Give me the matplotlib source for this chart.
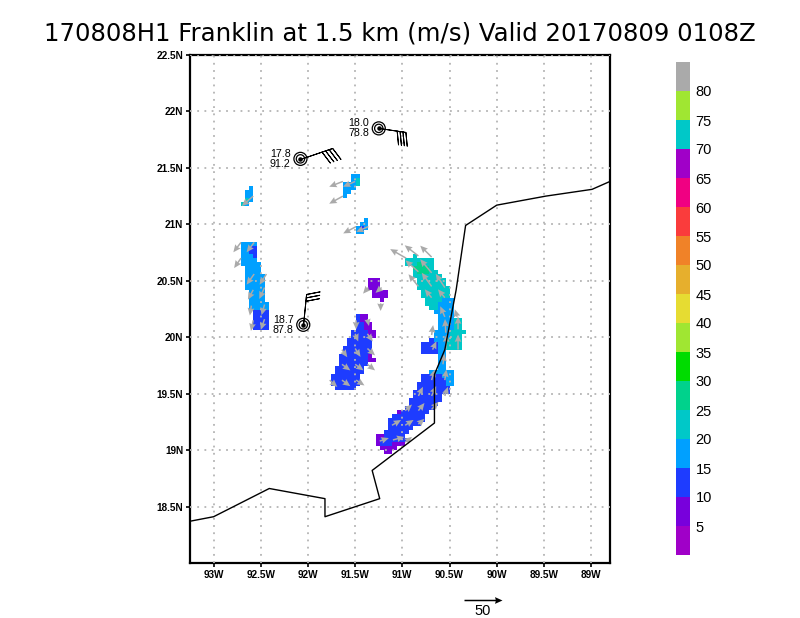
import numpy as np
import matplotlib
matplotlib.use('Agg')
import matplotlib.pyplot as plt
from matplotlib.colors import ListedColormap, BoundaryNorm

# Colour scale
levels = list(range(0, 90, 5))
level_colors = ['#a000c8', '#7800dc', '#1e3cff', '#00a0ff', '#00c8c8', '#00d28c',
                '#00dc00', '#a0e632', '#e6dc32', '#e6af2d', '#f08228', '#fa3c3c',
                '#f00082', '#a000c8', '#00c8c8', '#a0e632', '#aaaaaa']

# Wind analysis cells: (row, first col, last col, speed m/s)
# rows count south from lat0, cols count east from lon0
lon0 = -92.714
lat0 = 21.482
dlon = 0.0435
dlat = 0.0354

north_patch = [(1, 27, 28, 17), (2, 27, 27, 17), (2, 28, 28, 22), (3, 25, 27, 17), (3, 28, 28, 22),
               (4, 25, 27, 17), (5, 25, 26, 17), (6, 25, 25, 17)]
small_patch = [(12, 30, 30, 17), (13, 29, 30, 17), (14, 28, 30, 17), (15, 28, 29, 17), (14, 29, 29, 12)]
nw_patch = [(4, 2, 2, 17), (5, 1, 2, 17), (6, 1, 2, 17), (7, 1, 1, 22), (7, 2, 2, 17),
            (8, 0, 0, 22), (8, 1, 1, 17)]
west_strip = [(18, 0, 3, 17), (19, 0, 1, 17), (19, 2, 3, 12), (20, 0, 1, 17), (20, 2, 3, 12),
              (21, 0, 2, 17), (21, 3, 3, 12), (22, 0, 3, 17), (23, 0, 4, 17), (24, 1, 4, 17),
              (25, 1, 4, 17), (26, 1, 5, 17), (27, 1, 5, 17), (28, 1, 5, 17), (29, 1, 5, 17),
              (30, 2, 5, 17), (31, 2, 5, 17), (32, 2, 5, 17), (33, 2, 6, 17), (34, 2, 6, 17),
              (35, 3, 6, 12), (36, 3, 6, 12), (37, 3, 6, 12), (38, 3, 6, 12), (39, 3, 6, 12)]
centre_top = [(27, 31, 33, 7), (28, 31, 33, 7), (29, 31, 33, 7), (30, 32, 35, 7), (31, 32, 35, 7),
              (32, 34, 34, 7)]
centre_band = [(36, 28, 28, 12), (36, 29, 30, 7), (37, 28, 28, 12), (37, 29, 30, 7),
               (38, 28, 29, 12), (38, 30, 31, 7), (39, 28, 29, 12), (39, 30, 31, 7),
               (40, 27, 30, 12), (40, 31, 32, 7), (41, 27, 30, 12), (41, 31, 32, 7),
               (42, 26, 31, 12), (43, 26, 31, 12), (44, 25, 31, 12), (45, 25, 31, 12),
               (46, 24, 30, 12), (46, 31, 31, 7), (47, 24, 30, 12), (47, 31, 32, 7),
               (48, 24, 30, 12), (49, 23, 29, 12), (50, 23, 29, 12), (51, 22, 28, 12),
               (52, 22, 28, 12), (53, 22, 28, 12), (54, 23, 27, 12)]
upper_arc = [(21, 42, 42, 22), (22, 40, 46, 22), (23, 40, 46, 22), (23, 43, 44, 27), (24, 42, 46, 22),
             (24, 42, 45, 27), (25, 42, 47, 22), (25, 43, 45, 27), (26, 42, 48, 22), (27, 43, 49, 22),
             (28, 43, 49, 22), (29, 43, 50, 22), (30, 44, 50, 22), (31, 44, 50, 22),
             (32, 45, 48, 22), (32, 49, 51, 17), (33, 45, 47, 22), (33, 48, 51, 17),
             (34, 46, 47, 22), (34, 48, 51, 17), (35, 47, 51, 17), (36, 48, 51, 17),
             (37, 48, 51, 17), (37, 52, 53, 22), (38, 48, 51, 17), (38, 52, 53, 22),
             (39, 48, 51, 17), (39, 52, 53, 22), (40, 47, 50, 17), (40, 51, 54, 22),
             (41, 47, 50, 17), (41, 51, 53, 22), (42, 46, 46, 12), (42, 47, 49, 17), (42, 50, 53, 22),
             (43, 44, 47, 12), (43, 48, 49, 17), (43, 50, 53, 22), (44, 44, 47, 12), (44, 48, 49, 17),
             (44, 50, 53, 22)]
lower_arc = [(45, 44, 47, 12), (45, 48, 49, 17), (46, 48, 49, 17), (47, 48, 49, 17), (48, 48, 49, 17),
             (49, 48, 49, 17), (50, 46, 51, 17), (51, 44, 48, 12), (51, 49, 51, 17),
             (52, 44, 49, 12), (52, 50, 51, 17), (53, 43, 49, 12), (53, 50, 51, 17),
             (54, 43, 50, 12), (55, 42, 50, 12), (56, 42, 48, 12), (57, 41, 48, 12),
             (58, 41, 47, 12), (59, 40, 46, 12), (60, 38, 38, 7), (60, 39, 45, 12),
             (61, 37, 44, 12), (62, 36, 44, 12), (63, 36, 43, 12), (64, 36, 41, 12),
             (65, 35, 40, 12), (66, 33, 34, 7), (66, 35, 39, 12), (67, 33, 33, 7), (67, 34, 40, 12),
             (68, 33, 33, 7), (68, 34, 36, 12), (68, 37, 39, 7), (69, 34, 37, 7), (70, 35, 36, 7)]

# Wind vectors
arrow_lon = [-91.63, -91.63, -91.50, -91.36, -91.49,
             -92.58, -92.71, -92.57, -92.71, -92.57, -92.44, -92.58, -92.46, -92.60, -92.46, -92.58, -92.46,
             -91.36, -91.22, -91.23, -91.49, -91.37, -91.50, -91.37, -91.50, -91.37, -91.64,
             -91.64, -91.50, -91.37, -91.77, -91.64, -91.49,
             -91.24, -91.10, -90.97, -91.11, -90.97, -90.83, -90.97, -90.83, -90.69, -90.83, -90.69,
             -90.55, -90.69, -90.55, -90.57, -90.68, -90.69, -90.54, -90.41, -90.54, -90.41, -90.55,
             -90.42, -90.55, -90.69, -90.55, -90.69, -90.83, -90.69, -90.83, -90.69, -90.83, -90.96]
arrow_lat = [21.38, 21.25, 21.38, 20.98, 20.98,
             21.25, 20.84, 20.84, 20.70, 20.56, 20.56, 20.42, 20.44, 20.28, 20.29, 20.15, 20.16,
             20.44, 20.44, 20.30, 20.15, 20.16, 20.03, 20.03, 19.90, 19.90, 19.89,
             19.76, 19.76, 19.76, 19.62, 19.62, 19.62,
             19.08, 19.09, 19.07, 19.22, 19.22, 19.23, 19.35, 19.35, 19.36, 19.48, 19.48,
             19.48, 19.62, 19.62, 19.76, 19.89, 20.02, 19.89, 19.89, 20.04, 20.07, 20.18,
             20.18, 20.35, 20.35, 20.44, 20.45, 20.45, 20.57, 20.58, 20.71, 20.72, 20.70]
arrow_u = [-18, -18, -16, -16, -17,
           -15, -10, -10, -9, -10, -9, -7, -7, -2, -4, -3, -5,
           -7, -8, 0, 0, 2, 4, 7, 7, 10, 7,
           11, 11, 10, 10, 11, 11,
           12, 15, 9, 12, 11, 8, 9, 8, 9, 6, 6,
           4, 4, 2, 2, 5, 2, 1, 0, -1, 0, -6,
           -3, -9, -9, -12, -13, -13, -15, -17, -15, -18, -21]
arrow_v = [-7, -10, -7, -7, -9,
           -13, -13, -13, -13, -14, -14, -13, -15, -13, -14, -14, -14,
           -8, -7, -10, -12, -9, -10, -10, -11, -9, -10,
           -8, -8, -8, -9, -8, -7,
           4, 4, 7, 7, 7, 7, 8, 10, 10, 12, 13,
           12, 14, 14, 14, 11, 13, 20, 20, 18, 17, 14,
           10, 11, 11, 18, 18, 16, 18, 15, 15, 14, 12]

# Coast line
coast_lon = [-93.25, -93.0, -92.41, -91.82, -91.82, -91.24, -91.32, -90.66, -90.66, -90.55, -90.43,
             -90.33, -90.0, -89.48, -88.99, -88.8]
coast_lat = [18.37, 18.41, 18.66, 18.57, 18.41, 18.57, 18.82, 19.24, 19.67, 19.89, 20.42,
             20.99, 21.17, 21.25, 21.31, 21.38]

# Storm positions, their labels and barbs
storm_lon = [-91.25, -92.08, -92.05]
storm_lat = [21.85, 21.58, 20.11]
storm_text = ['18.0\n78.8', '17.8\n91.2', '18.7\n87.8']
barb_u = [-40, -38, -3]
barb_v = [6, -13, -30]
barb_len = [6.2, 7.0, 6.7]
barb_height = [0.5, 0.38, 0.42]

xticks = [-93, -92.5, -92, -91.5, -91, -90.5, -90, -89.5, -89]
xlabels = ['93W', '92.5W', '92W', '91.5W', '91W', '90.5W', '90W', '89.5W', '89W']
yticks = [18.5, 19, 19.5, 20, 20.5, 21, 21.5, 22, 22.5]
ylabels = ['18.5N', '19N', '19.5N', '20N', '20.5N', '21N', '21.5N', '22N', '22.5N']

# build the grid
grid = np.full((73, 58), np.nan)
for patch in [north_patch, small_patch, nw_patch, west_strip, centre_top, centre_band, upper_arc, lower_arc]:
    for row, first, last, speed in patch:
        grid[row, first:last + 1] = speed
lon_edges = lon0 + dlon * np.arange(59)
lat_edges = lat0 - dlat * np.arange(74)

plt.rcParams['font.family'] = ['Liberation Sans', 'DejaVu Sans']

fig = plt.figure(figsize=(8, 6.18), dpi=100)
ax = fig.add_axes([190 / 800, 55 / 618, 420 / 800, 508 / 618])

cmap = ListedColormap(level_colors)
norm = BoundaryNorm(levels, cmap.N)
mesh = ax.pcolormesh(lon_edges, lat_edges, grid, cmap=cmap, norm=norm, zorder=1)

ax.set_xlim(-93.25, -88.8)
ax.set_ylim(18.0, 22.5)
ax.set_xticks(xticks)
ax.set_xticklabels(xlabels, fontsize=7.2, fontweight='bold')
ax.set_yticks(yticks)
ax.set_yticklabels(ylabels, fontsize=7.2, fontweight='bold')
ax.tick_params(direction='out', length=3, width=1.2, pad=2)
ax.grid(True, color='#b4b4b4', linestyle=(0, (1, 3)), linewidth=1.3, zorder=2)
ax.set_axisbelow(False)
for spine in ax.spines.values():
    spine.set_linewidth(1.6)

ax.plot(coast_lon, coast_lat, color='black', linewidth=1.0, zorder=4)

q = ax.quiver(arrow_lon, arrow_lat, arrow_u, arrow_v, angles='uv', units='dots', scale_units='dots',
              scale=1 / 0.76, width=1.5, headwidth=4.5, headlength=5, headaxislength=4.5,
              color='#aaaaaa', zorder=3)
ax.quiverkey(q, 483 / 800, 1 - 600 / 618, 50, '50', coordinates='figure', labelpos='S', color='black',
             labelsep=0.04, fontproperties={'size': 10.5})

# storm symbols
for i in range(len(storm_lon)):
    ax.scatter(storm_lon[i], storm_lat[i], s=88, facecolor='none', edgecolor='black', linewidth=0.9, zorder=5)
    ax.scatter(storm_lon[i], storm_lat[i], s=36, facecolor='none', edgecolor='black', linewidth=0.9, zorder=5)
    ax.scatter(storm_lon[i], storm_lat[i], s=5, color='black', zorder=5)
    ax.barbs(storm_lon[i], storm_lat[i], barb_u[i], barb_v[i], length=barb_len[i], linewidth=0.7,
             barb_increments={'half': 5, 'full': 10, 'flag': 1000},
             sizes={'height': barb_height[i], 'spacing': 0.11, 'emptybar': 0}, zorder=5)
    ax.annotate(storm_text[i], (storm_lon[i], storm_lat[i]), xytext=(-7, 0), textcoords='offset points',
                ha='right', va='center', fontsize=7.7, linespacing=1.0, zorder=6)

fig.text(0.5, 1 - 33 / 618, '170808H1 Franklin at 1.5 km (m/s) Valid 20170809 0108Z',
         ha='center', va='center', fontsize=17.55, family='DejaVu Sans', color='black')

# colour bar
cax = fig.add_axes([676 / 800, (618 - 555) / 618, 14 / 800, 493 / 618])
cbar = fig.colorbar(mesh, cax=cax, ticks=levels[1:-1], drawedges=False)
cbar.outline.set_visible(False)
cbar.ax.tick_params(which='both', length=0, pad=4, labelsize=10.5)
cbar.ax.minorticks_off()

fig.savefig('out.png', dpi=100)
